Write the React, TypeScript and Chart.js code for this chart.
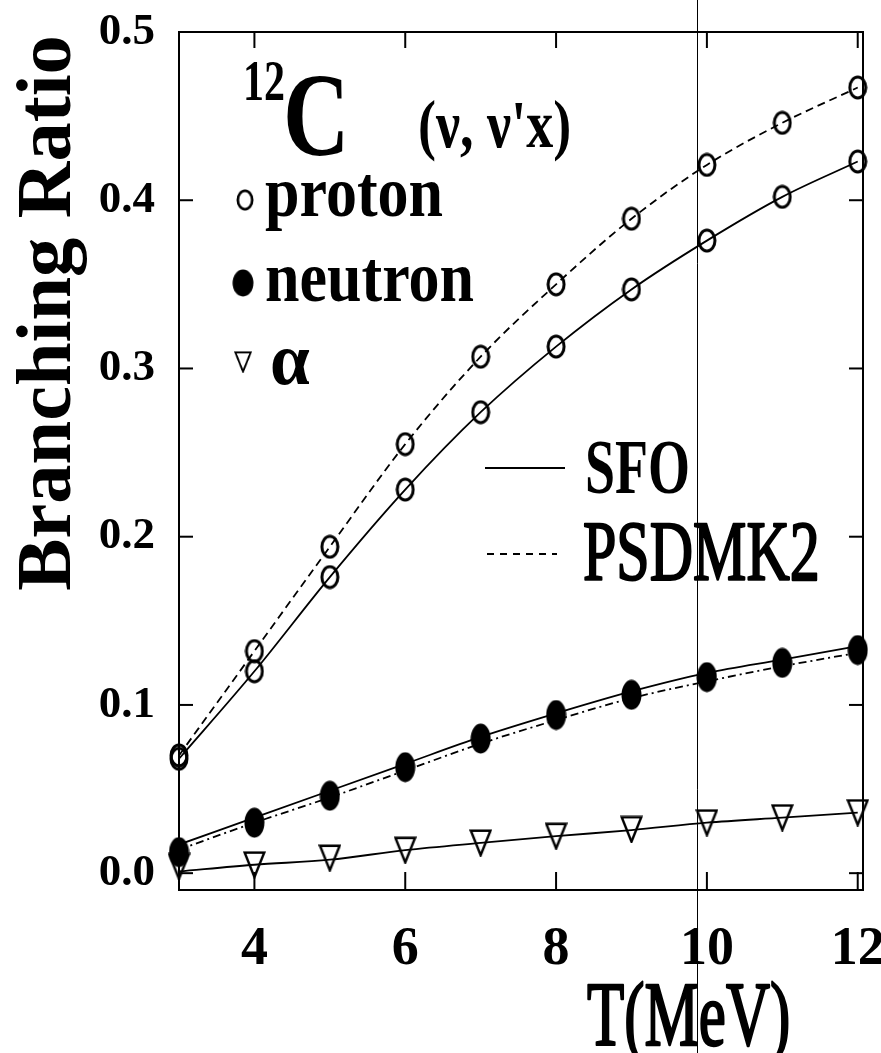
import React, { useEffect, useRef } from 'react';
import { Chart, registerables } from 'chart.js';

Chart.register(...registerables);

// ---- data ----
const T = [3, 4, 5, 6, 7, 8, 9, 10, 11, 12];
const protonSFO = [0.068, 0.12, 0.176, 0.228, 0.274, 0.313, 0.347, 0.376, 0.402, 0.423];
const protonPSD = [0.070, 0.132, 0.194, 0.255, 0.307, 0.350, 0.389, 0.421, 0.446, 0.467];
const neutronPts = [0.0125, 0.030, 0.046, 0.063, 0.080, 0.094, 0.106, 0.1165, 0.125, 0.1326];
const neutronSFO = [0.017, 0.033, 0.049, 0.065, 0.081, 0.095, 0.108, 0.119, 0.127, 0.135];
const neutronPSD = [0.014, 0.030, 0.045, 0.061, 0.077, 0.091, 0.104, 0.114, 0.123, 0.131];
const alphaPts = [0.004, 0.005, 0.009, 0.0137, 0.018, 0.022, 0.026, 0.030, 0.033, 0.036];
const alphaSFO = [0.001, 0.005, 0.008, 0.0137, 0.018, 0.022, 0.0256, 0.030, 0.033, 0.036];
const xTickValues = [4, 6, 8, 10, 12];
const yTickValues = [0, 0.1, 0.2, 0.3, 0.4, 0.5];
const X_MIN = 3;
const X_MAX = 12.07;
const Y_MIN = -0.01;
const Y_MAX = 0.5;
const SCAN_LINE_T = 9.87;

const SERIF = "'Liberation Serif', 'Times New Roman', serif";

const pts = (ys: number[]) => T.map((t, i) => ({ x: t, y: ys[i] }));

function makeMarker(kind: 'open' | 'filled' | 'tri', w: number, h: number, lw: number) {
  const c = document.createElement('canvas');
  c.width = w;
  c.height = h;
  const g = c.getContext('2d')!;
  g.strokeStyle = '#000';
  g.fillStyle = '#000';
  g.lineWidth = lw;
  g.beginPath();
  if (kind === 'tri') {
    const m = lw / 2 + 0.5;
    g.moveTo(m, m);
    g.lineTo(w - m, m);
    g.lineTo(w / 2, h - m);
    g.closePath();
    g.stroke();
  } else if (kind === 'filled') {
    g.ellipse(w / 2, h / 2, w / 2 - 0.5, h / 2 - 0.5, 0, 0, Math.PI * 2);
    g.fill();
  } else {
    g.ellipse(w / 2, h / 2, w / 2 - lw / 2 - 0.5, h / 2 - lw / 2 - 0.5, 0, 0, Math.PI * 2);
    g.stroke();
  }
  return c;
}

function txt(
  ctx: CanvasRenderingContext2D,
  s: string,
  x: number,
  y: number,
  font: string,
  sx = 1,
  sy = 1,
  stroke = 0
) {
  ctx.save();
  ctx.translate(x, y);
  ctx.scale(sx, sy);
  ctx.font = font;
  ctx.textAlign = 'left';
  ctx.textBaseline = 'alphabetic';
  ctx.fillStyle = '#000';
  ctx.fillText(s, 0, 0);
  if (stroke > 0) {
    ctx.strokeStyle = '#000';
    ctx.lineWidth = stroke;
    ctx.lineJoin = 'round';
    ctx.strokeText(s, 0, 0);
  }
  ctx.restore();
}

export default function App() {
  const ref = useRef<HTMLCanvasElement | null>(null);

  useEffect(() => {
    if (!ref.current) return;
    const openM = makeMarker('open', 20, 25, 3);
    const filledM = makeMarker('filled', 21, 31, 1);
    const triM = makeMarker('tri', 23, 28, 2.4);

    const lineDs = (label: string, ys: number[], dash: number[]) => ({
      label,
      data: pts(ys),
      showLine: true,
      borderColor: '#000',
      borderWidth: 1.8,
      borderDash: dash,
      pointRadius: 0,
      cubicInterpolationMode: 'monotone' as const,
      fill: false,
      order: 2,
    });
    const markDs = (label: string, ys: number[], style: HTMLCanvasElement) => ({
      label,
      data: pts(ys),
      showLine: false,
      pointStyle: style,
      pointRadius: 10,
      borderColor: '#000',
      backgroundColor: 'rgba(0,0,0,0)',
      clip: false as const,
      order: 1,
    });

    const decor = {
      id: 'decor',
      afterDraw(chart: any) {
        const ctx: CanvasRenderingContext2D = chart.ctx;
        const { left, right, top, bottom } = chart.chartArea;
        const xs = chart.scales.x;
        const ys = chart.scales.y;
        ctx.save();
        ctx.strokeStyle = '#000';
        ctx.lineWidth = 2;
        const ln = (a: number, b: number, c: number, d: number) => {
          ctx.beginPath();
          ctx.moveTo(a, b);
          ctx.lineTo(c, d);
          ctx.stroke();
        };
        xs.ticks.forEach((t: any) => {
          const px = xs.getPixelForValue(t.value);
          ln(px, bottom, px, bottom - 18);
          ln(px, top, px, top + 16);
        });
        ys.ticks.forEach((t: any) => {
          const py = ys.getPixelForValue(t.value);
          ln(left, py, left + 14, py);
          ln(right, py, right - 14, py);
        });
        ctx.strokeRect(left, top, right - left, bottom - top);

        // annotation texts
        txt(ctx, '12', 243, 100, `bold 42px ${SERIF}`, 1, 1.35);
        txt(ctx, 'C', 283, 155, `bold 92px ${SERIF}`, 1, 1.3);
        txt(ctx, '(ν, ν\'x)', 418, 147, `bold 54px ${SERIF}`, 1, 1.25);

        // legend markers
        ctx.drawImage(openM, 245 - 9, 200 - 11, 18, 22);
        ctx.drawImage(filledM, 243 - 11, 283 - 14, 22, 28);
        ctx.drawImage(triM, 243 - 9, 362 - 11, 18, 22);
        txt(ctx, 'proton', 265, 216, `bold 62px ${SERIF}`, 1, 1.15);
        txt(ctx, 'neutron', 265, 301, `bold 62px ${SERIF}`, 1, 1.15);
        txt(ctx, 'α', 270, 384, `bold 68px ${SERIF}`, 1.05, 1.1);

        // model legend
        ctx.lineWidth = 1.8;
        ln(485, 468, 565, 468);
        ctx.setLineDash([7, 6]);
        ln(487, 554, 557, 554);
        ctx.setLineDash([]);
        txt(ctx, 'SFO', 585, 493, `bold 54px ${SERIF}`, 1, 1.45);
        txt(ctx, 'PSDMK2', 583, 580, `60px ${SERIF}`, 1, 1.42, 1.6);

        // axis titles
        txt(ctx, 'T(MeV)', 587, 1045, `61px ${SERIF}`, 1, 1.5, 1.6);
        ctx.save();
        ctx.translate(70, 313);
        ctx.rotate(-Math.PI / 2);
        ctx.scale(1.06, 1.05);
        ctx.font = `bold 74px ${SERIF}`;
        ctx.textAlign = 'center';
        ctx.textBaseline = 'alphabetic';
        ctx.fillStyle = '#000';
        ctx.fillText('Branching Ratio', 0, 0);
        ctx.restore();

        // scan line artifact
        const sx = Math.round(xs.getPixelForValue(SCAN_LINE_T)) + 0.5;
        ctx.lineWidth = 1;
        ln(sx, 0, sx, chart.height);
        ctx.restore();
      },
    };

    const chart = new Chart(ref.current, {
      type: 'scatter',
      data: {
        datasets: [
          lineDs('proton SFO', protonSFO, []),
          lineDs('proton PSDMK2', protonPSD, [8, 5]),
          lineDs('neutron SFO', neutronSFO, []),
          lineDs('neutron PSDMK2', neutronPSD, [8, 4, 2, 4]),
          lineDs('alpha SFO', alphaSFO, []),
          markDs('proton SFO pts', protonSFO, openM),
          markDs('proton PSDMK2 pts', protonPSD, openM),
          markDs('neutron pts', neutronPts, filledM),
          markDs('alpha pts', alphaPts, triM),
        ] as any,
      },
      options: {
        animation: false,
        responsive: false,
        devicePixelRatio: 1,
        layout: { padding: { top: 32, right: 18, left: 0, bottom: 0 } },
        plugins: {
          legend: { display: false },
          tooltip: { enabled: false },
        },
        scales: {
          x: {
            type: 'linear',
            min: X_MIN,
            max: X_MAX,
            grid: { display: false },
            border: { display: false },
            afterBuildTicks: (s: any) => {
              s.ticks = xTickValues.map((v) => ({ value: v }));
            },
            afterFit: (s: any) => {
              s.height = 163;
              s.paddingLeft = 0;
              s.paddingRight = 0;
            },
            ticks: {
              color: '#000',
              font: { family: SERIF, size: 54, weight: 'bold' },
              padding: 20,
              maxRotation: 0,
              autoSkip: false,
              callback: (v: any) => String(v),
            },
          },
          y: {
            type: 'linear',
            min: Y_MIN,
            max: Y_MAX,
            grid: { display: false },
            border: { display: false },
            afterBuildTicks: (s: any) => {
              s.ticks = yTickValues.map((v) => ({ value: v }));
            },
            afterFit: (s: any) => {
              s.width = 179;
              s.paddingTop = 0;
              s.paddingBottom = 0;
            },
            ticks: {
              color: '#000',
              font: { family: SERIF, size: 45, weight: 'bold' },
              padding: 16,
              autoSkip: false,
              callback: (v: any) => Number(v).toFixed(1),
            },
          },
        },
      } as any,
      plugins: [decor],
    });
    return () => chart.destroy();
  }, []);

  return (
    <div style={{ position: 'fixed', left: 0, top: 0, width: 881, height: 1053, background: '#fff' }}>
      <canvas ref={ref} width={881} height={1053} style={{ display: 'block' }} />
    </div>
  );
}
